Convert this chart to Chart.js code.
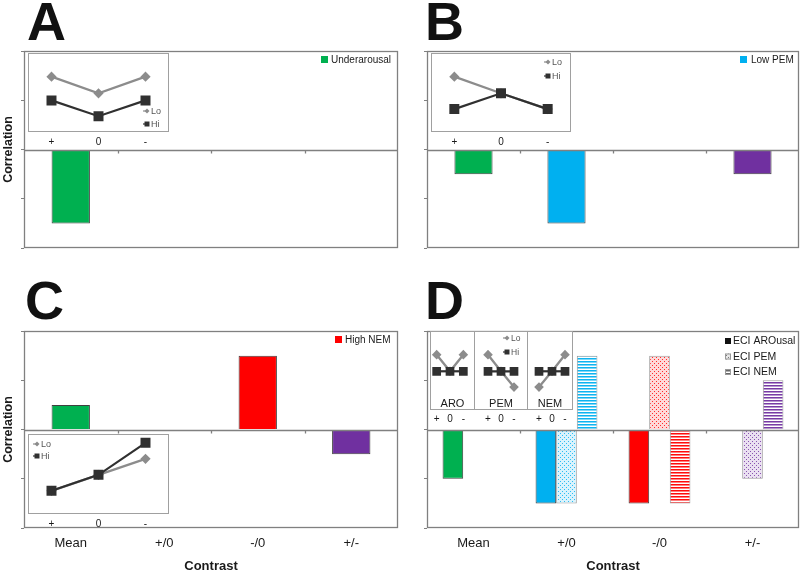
<!DOCTYPE html>
<html>
<head>
<meta charset="utf-8">
<script src="https://cdn.jsdelivr.net/npm/chart.js@4.4.1/dist/chart.umd.min.js"></script>
<style>
  html, body { margin: 0; padding: 0; background: #fff; }
  body { width: 800px; height: 573px; position: relative; overflow: hidden; font-family: "Liberation Sans", Arial, sans-serif; }
  .letter { position: absolute; font-weight: bold; font-size: 54px; line-height: 54px; color: #111; }
  .box { position: absolute; }
</style>
</head>
<body>
<div class="letter" style="left:27px;top:-6px">A</div>
<div class="letter" style="left:425px;top:-6px">B</div>
<div class="letter" style="left:25px;top:273px">C</div>
<div class="letter" style="left:425px;top:273px">D</div>

<div class="box" style="left:0;top:45px;width:400px;height:207px"><canvas id="chartA"></canvas></div>
<div class="box" style="left:400px;top:45px;width:400px;height:207px"><canvas id="chartB"></canvas></div>
<div class="box" style="left:0;top:325px;width:400px;height:248px"><canvas id="chartC"></canvas></div>
<div class="box" style="left:400px;top:325px;width:400px;height:248px"><canvas id="chartD"></canvas></div>

<div class="box" style="left:28px;top:53px;width:141px;height:95px"><canvas id="insetA"></canvas></div>
<div class="box" style="left:431px;top:53px;width:140px;height:95px"><canvas id="insetB"></canvas></div>
<div class="box" style="left:28px;top:434px;width:141px;height:96px"><canvas id="insetC"></canvas></div>
<div class="box" style="left:430px;top:331px;width:45px;height:96px"><canvas id="insetAro"></canvas></div>
<div class="box" style="left:474px;top:331px;width:54px;height:96px"><canvas id="insetPem"></canvas></div>
<div class="box" style="left:527px;top:331px;width:46px;height:96px"><canvas id="insetNem"></canvas></div>

<script>
const FONT = '"Liberation Sans", Arial, sans-serif';
Chart.defaults.font.family = FONT;

// bar data
const contrasts = ['Mean', '+/0', '-/0', '+/-'];
const contrastColors = ['#00b050', '#00b0f0', '#ff0000', '#7030a0'];

const underarousal = [-1.5, null, null, null];
const lowPEM = [-0.5, -1.5, null, -0.5];
const highNEM = [0.5, null, 1.5, -0.5];

const eciArousal = [-1.0, -1.5, -1.5, null];
const eciPEM = [null, -1.5, 1.5, -1.0];
const eciNEM = [null, 1.5, -1.5, 1.0];

// inset data (Lo / Hi lines)
const loHiTicks = ['+', '0', '-'];
const insetALo = [7.0, 4.9, 7.0];
const insetAHi = [4.0, 2.0, 4.0];
const insetBLo = [7.0, 4.9, 2.9];
const insetBHi = [2.9, 4.9, 2.9];
const insetCLo = [2.9, 4.9, 6.9];
const insetCHi = [2.9, 4.9, 8.9];
const aroLo = [7.0, 4.9, 7.0];
const pemLo = [7.0, 4.9, 2.9];
const nemLo = [2.9, 4.9, 7.0];
const flatHi = [4.9, 4.9, 4.9];

function dotPattern(color) {
  const c = document.createElement('canvas');
  c.width = 4; c.height = 4;
  const g = c.getContext('2d');
  g.fillStyle = '#fff'; g.fillRect(0, 0, 4, 4);
  g.fillStyle = color;
  g.globalAlpha = 0.15; g.fillRect(0, 0, 4, 4);
  g.globalAlpha = 0.8; g.fillRect(0, 0, 1, 1); g.fillRect(2, 2, 1, 1);
  return g.createPattern(c, 'repeat');
}

function stripePattern(color) {
  const c = document.createElement('canvas');
  c.width = 4; c.height = 3;
  const g = c.getContext('2d');
  g.fillStyle = '#fff'; g.fillRect(0, 0, 4, 3);
  g.fillStyle = color;
  g.globalAlpha = 0.95; g.fillRect(0, 0, 4, 1);
  g.globalAlpha = 0.5; g.fillRect(0, 1, 4, 1);
  return g.createPattern(c, 'repeat');
}

// box round the plot, zero axis and category ticks on it
const plotFrame = {
  id: 'plotFrame',
  afterDatasetsDraw(chart) {
    const { ctx, chartArea: a, scales: { x, y } } = chart;
    const y0 = Math.round(y.getPixelForValue(0)) + 0.5;
    ctx.save();
    ctx.strokeStyle = '#808080';
    ctx.lineWidth = 1.3;
    ctx.beginPath();
    ctx.moveTo(a.left, y0);
    ctx.lineTo(a.right, y0);
    for (let i = 1; i < contrasts.length; i++) {
      const bx = Math.round(x.getPixelForValue(i - 0.5)) + 0.5;
      ctx.moveTo(bx, y0);
      ctx.lineTo(bx, y0 + 3);
    }
    ctx.stroke();
    ctx.strokeRect(a.left + 0.5, a.top + 0.5, a.width - 1, a.height - 1);
    ctx.restore();
  }
};

// legend inside the top-right corner
const boxLegend = {
  id: 'boxLegend',
  afterDraw(chart, args, opts) {
    if (!opts.items) return;
    const { ctx, chartArea: a } = chart;
    ctx.save();
    ctx.font = opts.font;
    ctx.textBaseline = 'middle';
    opts.items.forEach((it, i) => {
      const x = a.right + opts.x;
      const y = a.top + opts.y + i * opts.dy;
      const s = opts.size;
      ctx.fillStyle = it.fill;
      ctx.fillRect(x, y - s / 2, s, s);
      if (it.stroke) {
        ctx.strokeStyle = it.stroke;
        ctx.lineWidth = 1;
        ctx.strokeRect(x + 0.5, y - s / 2 + 0.5, s - 1, s - 1);
      }
      ctx.fillStyle = '#1a1a1a';
      ctx.fillText(it.text, x + s + opts.gap, y + 0.5);
    });
    ctx.restore();
  }
};

// white box behind each inset
const insetBox = {
  id: 'insetBox',
  beforeDraw(chart, args, opts) {
    const { ctx, chartArea: a, width } = chart;
    ctx.save();
    ctx.fillStyle = '#fff';
    ctx.fillRect(0, a.top, width, a.height);
    ctx.strokeStyle = '#a0a0a0';
    ctx.lineWidth = 1;
    ctx.strokeRect(0.5, a.top + 0.5, width - 1, a.height - 1);
    if (opts.name) {
      ctx.fillStyle = '#1a1a1a';
      ctx.font = '11px ' + FONT;
      ctx.textAlign = 'center';
      ctx.textBaseline = 'middle';
      ctx.fillText(opts.name, width / 2, a.bottom - 6);
    }
    ctx.restore();
  }
};

// Lo / Hi key inside an inset
const lineKey = {
  id: 'lineKey',
  afterDraw(chart, args, opts) {
    if (!opts.at) return;
    const ctx = chart.ctx;
    ctx.save();
    ctx.font = opts.font;
    ctx.textBaseline = 'middle';
    chart.data.datasets.forEach((ds, i) => {
      const x = opts.at[0];
      const y = opts.at[1] + i * opts.dy;
      ctx.strokeStyle = ds.borderColor;
      ctx.fillStyle = ds.borderColor;
      ctx.lineWidth = 1.2;
      ctx.beginPath();
      ctx.moveTo(x - 4, y);
      ctx.lineTo(x, y);
      ctx.stroke();
      ctx.beginPath();
      if (ds.pointStyle === 'rectRot') {
        ctx.moveTo(x, y - 2.5); ctx.lineTo(x + 2.5, y); ctx.lineTo(x, y + 2.5); ctx.lineTo(x - 2.5, y);
      } else {
        ctx.rect(x - 2.5, y - 2.5, 5, 5);
      }
      ctx.fill();
      ctx.fillStyle = '#555';
      ctx.fillText(ds.label, x + 4, y + 0.5);
    });
    ctx.restore();
  }
};

function barChart(id, datasets, o) {
  return new Chart(document.getElementById(id), {
    type: 'bar',
    data: { labels: contrasts, datasets: datasets },
    options: {
      responsive: true,
      maintainAspectRatio: false,
      animation: false,
      devicePixelRatio: 1,
      layout: { padding: { top: 6, right: o.right, bottom: o.bottomAxis ? 0 : 4 } },
      plugins: {
        legend: { display: false },
        tooltip: { enabled: false },
        boxLegend: o.legend
      },
      scales: {
        x: {
          display: !!o.bottomAxis,
          grid: { display: false, drawTicks: false },
          border: { display: false },
          ticks: { padding: 8, color: '#1a1a1a', font: { size: 13 }, maxRotation: 0 },
          title: {
            display: true, text: 'Contrast', color: '#1a1a1a',
            font: { size: 13, weight: 'bold', lineHeight: 1 },
            padding: { top: 0, bottom: 0 }
          },
          afterFit: (s) => { if (o.bottomAxis) s.height = 45; }
        },
        y: {
          min: -2,
          max: 2,
          ticks: { stepSize: 1, display: false },
          grid: { drawOnChartArea: false, drawTicks: true, tickLength: 3, color: '#808080' },
          border: { display: false },
          title: {
            display: !!o.yTitle, text: 'Correlation', color: '#1a1a1a',
            font: { size: 12.5, weight: 'bold' },
            padding: { top: 1, bottom: 0 }
          },
          afterFit: (s) => { s.width = o.axisWidth; }
        }
      }
    },
    plugins: [plotFrame, boxLegend]
  });
}

function singleBars(values) {
  return [{
    data: values,
    backgroundColor: contrastColors,
    borderColor: '#404040',
    borderWidth: 1,
    barPercentage: 0.41,
    categoryPercentage: 1
  }];
}

function insetChart(id, lo, hi, o) {
  return new Chart(document.getElementById(id), {
    type: 'line',
    data: {
      labels: loHiTicks,
      datasets: [
        { label: 'Lo', data: lo, borderColor: '#8c8c8c', backgroundColor: '#8c8c8c',
          pointStyle: 'rectRot', pointRadius: o.loR, borderWidth: 2.3, order: 1 },
        { label: 'Hi', data: hi, borderColor: '#303030', backgroundColor: '#303030',
          pointStyle: 'rect', pointRadius: o.hiR, borderWidth: 2.2, order: 0 }
      ]
    },
    options: {
      responsive: true,
      maintainAspectRatio: false,
      animation: false,
      devicePixelRatio: 1,
      layout: { autoPadding: false, padding: { left: o.padL || 0, right: o.padR || 0 } },
      plugins: {
        legend: { display: false },
        tooltip: { enabled: false },
        insetBox: { name: o.name },
        lineKey: o.key || false
      },
      scales: {
        x: {
          offset: true,
          grid: { display: false, drawTicks: false },
          border: { display: false },
          ticks: { padding: o.tickPad, color: '#1a1a1a', font: { size: 10 }, maxRotation: 0, autoSkip: false },
          afterFit: (s) => { s.height = o.axisH; }
        },
        y: { display: false, min: 0, max: 10 }
      }
    },
    plugins: [insetBox, lineKey]
  });
}

const legendFont = '10px ' + FONT;

barChart('chartA', singleBars(underarousal), {
  right: 2, axisWidth: 24, yTitle: true,
  legend: { items: [{ text: 'Underarousal', fill: contrastColors[0] }], x: -77, y: 8.5, dy: 15, size: 7, gap: 3, font: legendFont }
});
barChart('chartB', singleBars(lowPEM), {
  right: 1, axisWidth: 27,
  legend: { items: [{ text: 'Low PEM', fill: contrastColors[1] }], x: -59, y: 8.5, dy: 15, size: 7, gap: 4, font: legendFont }
});
barChart('chartC', singleBars(highNEM), {
  right: 2, axisWidth: 24, yTitle: true, bottomAxis: true,
  legend: { items: [{ text: 'High NEM', fill: contrastColors[2] }], x: -63, y: 8.5, dy: 15, size: 7, gap: 3, font: legendFont }
});

const groupOpts = { borderWidth: 1, barPercentage: 1, categoryPercentage: 0.665 };
barChart('chartD', [
  Object.assign({ label: 'ECI AROusal', data: eciArousal, backgroundColor: contrastColors, borderColor: '#404040' }, groupOpts),
  Object.assign({ label: 'ECI PEM', data: eciPEM, backgroundColor: contrastColors.map(dotPattern), borderColor: '#9a9a9a' }, groupOpts),
  Object.assign({ label: 'ECI NEM', data: eciNEM, backgroundColor: contrastColors.map(stripePattern), borderColor: '#9a9a9a' }, groupOpts)
], {
  right: 1, axisWidth: 27, bottomAxis: true,
  legend: {
    items: [
      { text: 'ECI AROusal', fill: '#111' },
      { text: 'ECI PEM', fill: dotPattern('#606060'), stroke: '#999' },
      { text: 'ECI NEM', fill: stripePattern('#606060'), stroke: '#999' }
    ],
    x: -74, y: 10, dy: 15.5, size: 6, gap: 2, font: '10.5px ' + FONT
  }
});

const keyFont = '9px ' + FONT;
insetChart('insetA', insetALo, insetAHi, {
  loR: 3.5, hiR: 5.5, tickPad: 4, axisH: 16,
  key: { at: [119, 58], dy: 13, font: keyFont }
});
insetChart('insetB', insetBLo, insetBHi, {
  loR: 3.5, hiR: 5.5, tickPad: 4, axisH: 16,
  key: { at: [117, 9], dy: 14, font: keyFont }
});
insetChart('insetC', insetCLo, insetCHi, {
  loR: 3.5, hiR: 5.5, tickPad: 4, axisH: 16,
  key: { at: [9, 10], dy: 12, font: keyFont }
});
insetChart('insetAro', aroLo, flatHi, {
  loR: 3.2, hiR: 4.6, tickPad: 3, axisH: 17, padR: 5, name: 'ARO'
});
insetChart('insetPem', pemLo, flatHi, {
  loR: 3.2, hiR: 4.6, tickPad: 3, axisH: 17, padL: 7.5, padR: 7.5, name: 'PEM',
  key: { at: [33, 7], dy: 14, font: '8.5px ' + FONT }
});
insetChart('insetNem', nemLo, flatHi, {
  loR: 3.2, hiR: 4.6, tickPad: 3, axisH: 17, padL: 5.5, padR: 1.5, name: 'NEM'
});
</script>
</body>
</html>
